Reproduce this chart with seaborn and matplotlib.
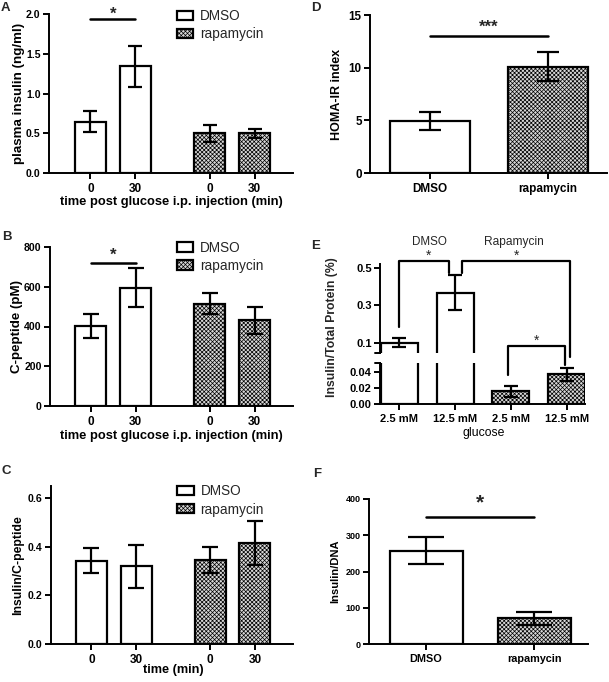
import numpy as np
import pandas as pd
import matplotlib
matplotlib.use('Agg')
import matplotlib.pyplot as plt
import seaborn as sns
from matplotlib.patches import Patch

# ---------------- data ----------------
groups4 = ['DMSO', 'DMSO', 'rapamycin', 'rapamycin']
time_labels = ['0', '30', '0', '30']
pos4 = [0.0, 1.0, 2.65, 3.65]

A_mean = [0.645, 1.34, 0.50, 0.50]
A_err = [0.135, 0.26, 0.11, 0.055]
A_sig = 1.94

B_mean = [402, 596, 515, 431]
B_err = [62, 97, 52, 67]
B_sig = 719

C_mean = [0.343, 0.320, 0.344, 0.416]
C_err = [0.051, 0.088, 0.053, 0.090]

D_groups = ['DMSO', 'rapamycin']
D_mean = [4.93, 10.1]
D_err = [0.87, 1.37]
D_sig = 13.0

E_groups = ['DMSO', 'DMSO', 'rapamycin', 'rapamycin']
E_labels = ['2.5 mM', '12.5 mM', '2.5 mM', '12.5 mM']
E_pos = [0, 1, 2, 3]
E_mean = [0.102, 0.369, 0.0158, 0.0367]
E_err = [0.025, 0.092, 0.0072, 0.0075]

F_groups = ['DMSO', 'rapamycin']
F_mean = [257, 71]
F_err = [37, 18]
F_sig = 351

# ---------------- style ----------------
sns.set_style('ticks')
plt.rcParams['font.family'] = ['Liberation Sans', 'DejaVu Sans']
plt.rcParams['font.weight'] = 'bold'
plt.rcParams['axes.labelweight'] = 'bold'
plt.rcParams['axes.linewidth'] = 1.4
plt.rcParams['hatch.linewidth'] = 0.5
for a in ('xtick', 'ytick'):
    plt.rcParams[f'{a}.major.width'] = 1.4
    plt.rcParams[f'{a}.major.size'] = 4
    plt.rcParams[f'{a}.color'] = 'black'
plt.rcParams['ytick.major.pad'] = 2
plt.rcParams['xtick.labelsize'] = 8.5
plt.rcParams['ytick.labelsize'] = 7.6
plt.rcParams['axes.edgecolor'] = 'black'
plt.rcParams['axes.labelcolor'] = 'black'

HATCH = 'xxxxxxxx'
HFACE = '#d8d8d8'
LW = 1.6

W, H = 609, 682
fig = plt.figure(figsize=(W / 100, H / 100), dpi=100)


def ax_px(l, t, r, b):
    return fig.add_axes([l / W, 1 - b / H, (r - l) / W, (b - t) / H])


def bars(ax, x, y, err, groups, width, capsize, show=None):
    df = pd.DataFrame({'x': x, 'y': y, 'g': groups})
    sns.barplot(data=df, x='x', y='y', hue='g',
                palette={'DMSO': 'white', 'rapamycin': 'white'},
                dodge=False, native_scale=True, width=width,
                edgecolor='black', linewidth=LW, errorbar=None,
                legend=False, ax=ax, zorder=2)
    xs = np.asarray(x, dtype=float)
    for p in ax.patches:
        c = p.get_x() + p.get_width() / 2
        i = int(np.argmin(np.abs(xs - c)))
        if groups[i] == 'rapamycin':
            p.set_facecolor(HFACE)
            p.set_hatch(HATCH)
    idx = range(len(x)) if show is None else show
    ax.errorbar([x[i] for i in idx], [y[i] for i in idx],
                yerr=[err[i] for i in idx], fmt='none', ecolor='black',
                elinewidth=LW, capsize=capsize, capthick=LW, zorder=3)
    ax.set_xlabel('')
    ax.set_ylabel('')
    sns.despine(ax=ax)


def sig(ax, x0, x1, y, ystar, text, fs):
    ax.plot([x0, x1], [y, y], color='black', lw=LW + 0.2, clip_on=False)
    ax.text((x0 + x1) / 2, ystar, text, ha='center', va='center',
            fontsize=fs, fontweight='bold', clip_on=False)


def legend(ax, anchor):
    h = [Patch(facecolor='white', edgecolor='black', lw=LW, label='DMSO'),
         Patch(facecolor=HFACE, edgecolor='black', hatch=HATCH, lw=LW,
               label='rapamycin')]
    ax.legend(handles=h, loc='upper left', bbox_to_anchor=anchor,
              frameon=False, prop={'weight': 'normal', 'size': 9.8},
              handlelength=1.2, handleheight=0.68, borderpad=0,
              borderaxespad=0, handletextpad=0.5, labelspacing=0.3)


# ---------------- A ----------------
axA = ax_px(49, 14, 293, 173)
bars(axA, pos4, A_mean, A_err, groups4, 0.69, 4.8)
axA.set_xlim(-0.92, 4.5)
axA.set_ylim(0, 2.0)
axA.set_yticks([0, 0.5, 1.0, 1.5, 2.0], ['0.0', '0.5', '1.0', '1.5', '2.0'])
axA.set_xticks(pos4, time_labels)
axA.set_ylabel('plasma insulin (ng/ml)', fontsize=9.6)
axA.yaxis.set_label_coords(-0.1, 0.5)
axA.set_xlabel('time post glucose i.p. injection (min)', fontsize=9.3)
axA.xaxis.set_label_coords(0.5, -0.145)
axA.xaxis.label.set_va('top')
sig(axA, pos4[0], pos4[1], A_sig, 2.0, '*', 12)
legend(axA, (0.525, 1.03))

# ---------------- B ----------------
axB = ax_px(50, 247, 293, 406)
bars(axB, pos4, B_mean, B_err, groups4, 0.69, 6)
axB.set_xlim(-0.91, 4.5)
axB.set_ylim(0, 800)
axB.set_yticks([0, 200, 400, 600, 800])
axB.set_xticks(pos4, time_labels)
axB.set_ylabel('C-peptide (pM)', fontsize=9.6)
axB.yaxis.set_label_coords(-0.112, 0.5)
axB.set_xlabel('time post glucose i.p. injection (min)', fontsize=9.3)
axB.xaxis.set_label_coords(0.5, -0.151)
axB.xaxis.label.set_va('top')
sig(axB, pos4[0], pos4[1], B_sig, 757, '*', 12)
legend(axB, (0.522, 1.04))

# ---------------- C ----------------
axC = ax_px(51, 486, 293, 644)
bars(axC, pos4, C_mean, C_err, groups4, 0.69, 6)
axC.set_xlim(-0.9, 4.5)
axC.set_ylim(0, 0.65)
axC.set_yticks([0, 0.2, 0.4, 0.6], ['0.0', '0.2', '0.4', '0.6'])
axC.set_xticks(pos4, time_labels)
axC.set_ylabel('Insulin/C-peptide', fontsize=8.8)
axC.yaxis.set_label_coords(-0.112, 0.5)
axC.set_xlabel('time (min)', fontsize=9.2)
axC.xaxis.set_label_coords(0.505, -0.128)
axC.xaxis.label.set_va('top')
legend(axC, (0.522, 1.01))

# ---------------- D ----------------
axD = ax_px(370, 15, 607, 173)
bars(axD, [0, 1], D_mean, D_err, D_groups, 0.68, 8)
axD.set_xlim(-0.51, 1.5)
axD.set_ylim(0, 15)
axD.set_yticks([0, 5, 10, 15])
axD.set_xticks([0, 1], D_groups)
axD.tick_params(axis='y', labelsize=8.4)
axD.set_ylabel('HOMA-IR index', fontsize=9)
axD.yaxis.set_label_coords(-0.114, 0.5)
sig(axD, 0, 1, D_sig, 13.85, '***', 12)

# ---------------- E ----------------
axEu = ax_px(380, 264, 585, 353)
axEl = ax_px(380, 363, 585, 404)
bars(axEu, E_pos, E_mean, E_err, E_groups, 0.665, 5, show=[0, 1])
bars(axEl, E_pos, E_mean, E_err, E_groups, 0.665, 5, show=[2, 3])
for ax in (axEu, axEl):
    ax.set_xlim(-0.35, 3.33)
    ax.tick_params(axis='y', labelsize=8)
axEu.set_ylim(0.047, 0.521)
axEu.set_yticks([0.1, 0.3, 0.5])
axEu.spines['bottom'].set_visible(False)
axEu.tick_params(axis='x', bottom=False, labelbottom=False)
axEl.set_ylim(0, 0.051)
axEl.set_yticks([0, 0.02, 0.04], ['0.00', '0.02', '0.04'])
axEl.set_xticks(E_pos, E_labels)
axEl.tick_params(axis='x', labelsize=8)
axEl.set_xlabel('glucose', fontsize=8.8, fontweight='normal')
axEl.xaxis.set_label_coords(0.505, -0.56)
axEl.xaxis.label.set_va('top')
# break marks
axEu.plot([-0.025, 0], [0, 0], transform=axEu.transAxes, color='black',
          lw=1.4, clip_on=False)
axEl.plot([-0.025, 0], [1, 1], transform=axEl.transAxes, color='black',
          lw=1.4, clip_on=False)
fig.text(338 / W, 1 - 327 / H, 'Insulin/Total Protein (%)', rotation=90,
         ha='right', va='center', fontsize=8.8, fontweight='bold')
# group captions
axEu.text(0.53, 0.64, 'DMSO', ha='center', va='center', fontsize=8.4,
          fontweight='normal', clip_on=False)
axEu.text(2.05, 0.64, 'Rapamycin', ha='center', va='center', fontsize=8.6,
          fontweight='normal', clip_on=False)
# brackets
bk = dict(color='black', lw=LW, clip_on=False)
axEu.plot([0, 0, 0.89, 0.89], [0.187, 0.535, 0.535, 0.473], **bk)
axEu.plot([1.12, 1.12, 3.06, 3.06], [0.473, 0.535, 0.535, 0.027], **bk)
axEl.plot([1.95, 1.95, 2.97, 2.97], [0.0358, 0.072, 0.072, 0.048], **bk)
axEu.text(0.52, 0.565, '*', ha='center', va='center', fontsize=10,
          fontweight='normal', clip_on=False)
axEu.text(2.1, 0.565, '*', ha='center', va='center', fontsize=10,
          fontweight='normal', clip_on=False)
axEl.text(2.46, 0.079, '*', ha='center', va='center', fontsize=10,
          fontweight='normal', clip_on=False)

# ---------------- F ----------------
axF = ax_px(369, 499, 588, 644)
bars(axF, [0, 1], F_mean, F_err, F_groups, 0.676, 13)
axF.set_xlim(-0.528, 1.5)
axF.set_ylim(0, 400)
axF.set_yticks([0, 100, 200, 300, 400])
axF.set_xticks([0, 1], F_groups)
axF.tick_params(axis='y', labelsize=6.5)
axF.tick_params(axis='x', labelsize=7.8)
axF.set_ylabel('Insulin/DNA', fontsize=8)
axF.yaxis.set_label_coords(-0.132, 0.5)
sig(axF, 0, 1, F_sig, 388, '*', 15)

# ---------------- panel letters ----------------
for lab, (px, py) in {'A': (1, 2), 'B': (2, 231), 'C': (2, 465),
                      'D': (311, 2), 'E': (311, 240), 'F': (313, 468)}.items():
    fig.text(px / W, 1 - py / H, lab, fontsize=9.5, fontweight='bold',
             va='top', ha='left')

fig.savefig('out.png', dpi=100)
